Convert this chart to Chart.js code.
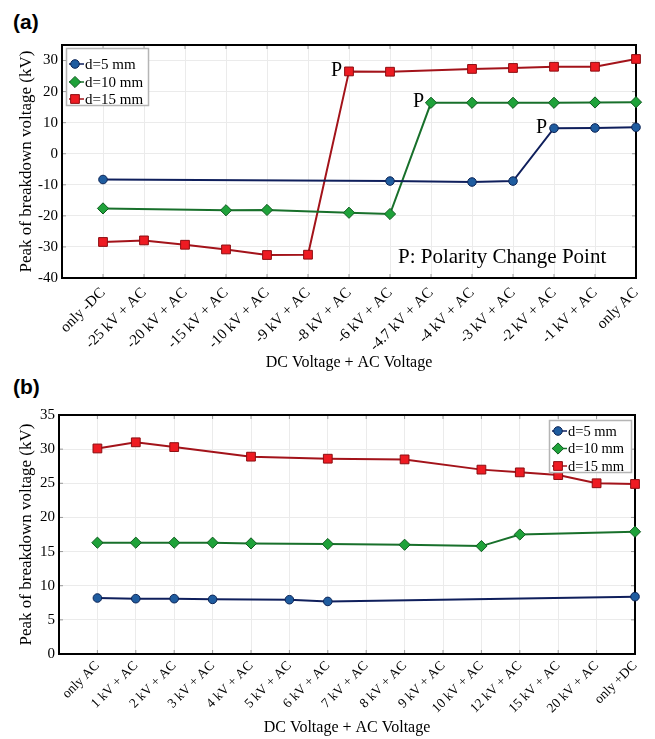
<!DOCTYPE html>
<html>
<head>
<meta charset="utf-8">
<script src="https://cdn.jsdelivr.net/npm/chart.js@4.4.0/dist/chart.umd.min.js"></script>
<style>
  body { margin: 0; background: #fff; width: 655px; height: 739px; position: relative; overflow: hidden; }
  canvas { position: absolute; left: 0; }
  #chartA { top: 0; }
  #chartB { top: 372px; }
  .tag { position: absolute; left: 13px; font: bold 21px "Liberation Sans", Arial, sans-serif; color: #000; }
</style>
</head>
<body>
<div class="tag" style="top:10px">(a)</div>
<div class="tag" style="top:375px">(b)</div>
<canvas id="chartA" width="655" height="372"></canvas>
<canvas id="chartB" width="655" height="367"></canvas>
<script>
// ── (a) negative DC + AC ─────────────────────────────────────
const labelsA = [
  'only -DC', '-25 kV + AC', '-20 kV + AC', '-15 kV + AC', '-10 kV + AC',
  '-9 kV + AC', '-8 kV + AC', '-6 kV + AC', '-4.7 kV + AC', '-4 kV + AC',
  '-3 kV + AC', '-2 kV + AC', '-1 kV + AC', 'only AC'
];
const d5A  = [-8.3, null, null, null, null, null, null, -8.8, null, -9.1, -8.8, 8.2, 8.3, 8.5];
const d10A = [-17.6, null, null, -18.2, -18.1, null, -19.0, -19.4, 16.4, 16.4, 16.4, 16.4, 16.5, 16.6];
const d15A = [-28.4, -27.9, -29.3, -30.8, -32.6, -32.5, 26.5, 26.4, null, 27.3, 27.6, 28.0, 28.0, 30.5];
// index where each gap's polarity flips (d=5, d=10, d=15)
const changeA = [11, 8, 6];
const yTicksA = { min: -40, max: 35, step: 10 };

// ── (b) positive DC + AC ─────────────────────────────────────
const labelsB = [
  'only AC', '1 kV + AC', '2 kV + AC', '3 kV + AC', '4 kV + AC', '5 kV + AC',
  '6 kV + AC', '7 kV + AC', '8 kV + AC', '9 kV + AC', '10 kV + AC',
  '12 kV + AC', '15 kV + AC', '20 kV + AC', 'only +DC'
];
const d5B  = [8.2, 8.1, 8.1, 8.0, null, 7.95, 7.7, null, null, null, null, null, null, null, 8.4];
const d10B = [16.3, 16.3, 16.3, 16.3, 16.2, null, 16.1, null, 16.0, null, 15.8, 17.5, null, null, 17.9];
const d15B = [30.1, 31.0, 30.3, null, 28.9, null, 28.6, null, 28.5, null, 27.0, 26.6, 26.2, 25.0, 24.9];
const yTicksB = { min: 0, max: 35, step: 5 };

const seriesNames = ['d=5 mm', 'd=10 mm', 'd=15 mm'];

const SERIF = '"Liberation Serif", "DejaVu Serif", serif';

const styles = [
  { line: '#0f1f5c', fill: '#1f5c9f', edge: '#0c2456', shape: 'circle',  r: 4.3 },
  { line: '#18702b', fill: '#1fa23a', edge: '#0d5a1e', shape: 'rectRot', r: 5.6 },
  { line: '#a3131a', fill: '#ee1b22', edge: '#8c0e12', shape: 'rect',    r: 6.2 }
];

// skip missing readings, keep category index as x
const toPoints = arr => arr.map((v, i) => (v == null ? null : { x: i, y: v })).filter(Boolean);

// frame + short inner tick marks
const framePlugin = {
  id: 'frame',
  beforeDatasetsDraw(chart) {
    const { ctx, chartArea: a, scales: { x, y } } = chart;
    ctx.save();
    ctx.strokeStyle = '#9a9a9a';
    ctx.lineWidth = 1;
    ctx.beginPath();
    x.ticks.forEach(t => {
      if (t.value < 0) return;
      const px = x.getPixelForValue(t.value);
      ctx.moveTo(px, a.top); ctx.lineTo(px, a.top + 4);
      ctx.moveTo(px, a.bottom); ctx.lineTo(px, a.bottom - 4);
    });
    y.ticks.forEach(t => {
      const py = y.getPixelForValue(t.value);
      ctx.moveTo(a.left, py); ctx.lineTo(a.left + 4, py);
      ctx.moveTo(a.right, py); ctx.lineTo(a.right - 4, py);
    });
    ctx.stroke();
    ctx.strokeStyle = '#000';
    ctx.lineWidth = 2;
    ctx.strokeRect(a.left, a.top, a.right - a.left, a.bottom - a.top);
    ctx.restore();
  }
};

// boxed legend inside the plot (offsets from the chart area corner)
const boxLegend = {
  id: 'boxLegend',
  afterDatasetsDraw(chart, args, opts) {
    const { ctx, chartArea: a } = chart;
    const { w, h, rows, fontSize } = opts;
    const x0 = a.left + opts.dx, y0 = a.top + opts.dy;
    ctx.save();
    ctx.fillStyle = '#fff';
    ctx.fillRect(x0, y0, w, h);
    ctx.strokeStyle = '#b5b5b5';
    ctx.lineWidth = 1.5;
    ctx.strokeRect(x0 + 0.5, y0 + 0.5, w, h);
    ctx.font = fontSize + 'px ' + SERIF;
    ctx.textBaseline = 'middle';
    chart.data.datasets.forEach((ds, i) => {
      const cy = y0 + rows[i];
      const mx = x0 + 9;
      ctx.strokeStyle = ds.borderColor;
      ctx.lineWidth = 1.5;
      ctx.beginPath();
      ctx.moveTo(mx - 6, cy); ctx.lineTo(mx + 9, cy);
      ctx.stroke();
      ctx.fillStyle = ds.pointBackgroundColor;
      ctx.strokeStyle = ds.pointBorderColor;
      ctx.lineWidth = 1;
      Chart.helpers.drawPoint(ctx, { pointStyle: ds.pointStyle, radius: ds.pointRadius, borderWidth: 1 }, mx, cy);
      ctx.fillStyle = '#000';
      ctx.fillText(ds.label, mx + 10, cy + 1);
    });
    ctx.restore();
  }
};

// "P" next to each polarity change point, plus the note
const polarityPlugin = {
  id: 'polarity',
  afterDatasetsDraw(chart, args, opts) {
    if (!opts.change) return;
    const { ctx, chartArea: a } = chart;
    ctx.save();
    ctx.fillStyle = '#000';
    ctx.font = '20px ' + SERIF;
    ctx.textAlign = 'right';
    ctx.textBaseline = 'middle';
    opts.change.forEach((idx, s) => {
      const meta = chart.getDatasetMeta(s);
      const pos = chart.data.datasets[s].data.findIndex(p => p.x === idx);
      const el = meta.data[pos];
      if (el) ctx.fillText('P', el.x - 7, el.y - 1);
    });
    ctx.font = '21px ' + SERIF;
    ctx.textAlign = 'left';
    ctx.textBaseline = 'alphabetic';
    ctx.fillText('P: Polarity Change Point', a.left + 336, a.bottom - 15);
    ctx.restore();
  }
};

function buildChart(id, labels, series, yt, cfg) {
  const datasets = series.map((arr, i) => ({
    label: seriesNames[i],
    data: toPoints(arr),
    borderColor: styles[i].line,
    borderWidth: 2,
    pointStyle: styles[i].shape,
    pointRadius: styles[i].r,
    pointHoverRadius: styles[i].r,
    pointBackgroundColor: styles[i].fill,
    pointBorderColor: styles[i].edge,
    pointBorderWidth: 1,
    tension: 0,
    clip: false
  }));

  return new Chart(document.getElementById(id), {
    type: 'line',
    data: { datasets },
    options: {
      responsive: false,
      animation: false,
      layout: { padding: { top: cfg.top, right: cfg.right, left: 0, bottom: 0 } },
      plugins: {
        legend: { display: false },
        tooltip: { enabled: false },
        boxLegend: cfg.legend,
        polarity: { change: cfg.change }
      },
      scales: {
        x: {
          type: 'linear',
          min: -1,
          max: labels.length - 1,
          afterFit: s => { s.height = cfg.xHeight; },
          afterBuildTicks: s => { s.ticks = labels.map((_, i) => ({ value: i })).concat([{ value: -1 }]); },
          grid: { color: '#ebebeb', drawTicks: false },
          border: { display: false },
          ticks: {
            autoSkip: false,
            minRotation: 45,
            maxRotation: 45,
            padding: cfg.tickPad,
            color: '#000',
            font: { family: SERIF, size: cfg.tickSize },
            callback: v => labels[v] ?? ''
          },
          title: {
            display: true,
            text: 'DC Voltage + AC Voltage',
            color: '#000',
            font: { family: SERIF, size: 16 },
            padding: { top: 0, bottom: cfg.xTitlePad }
          }
        },
        y: {
          min: yt.min,
          max: yt.max,
          afterFit: s => { s.width = cfg.yWidth; },
          grid: { color: '#ebebeb', drawTicks: false },
          border: { display: false },
          ticks: {
            stepSize: yt.step,
            includeBounds: false,
            padding: 4,
            color: '#000',
            font: { family: SERIF, size: 15 }
          },
          title: {
            display: true,
            text: 'Peak of breakdown voltage (kV)',
            color: '#000',
            font: { family: SERIF, size: 17 },
            padding: { top: 16, bottom: 0 }
          }
        }
      }
    },
    plugins: [framePlugin, polarityPlugin, boxLegend]
  });
}

buildChart('chartA', labelsA, [d5A, d10A, d15A], yTicksA, {
  top: 45, right: 19, yWidth: 62, xHeight: 94, xTitlePad: 0, tickSize: 15, tickPad: 6,
  change: changeA,
  legend: { dx: 4, dy: 3, w: 82, h: 57, rows: [16, 34, 51], fontSize: 15 }
});

buildChart('chartB', labelsB, [d5B, d10B, d15B], yTicksB, {
  top: 43, right: 20, yWidth: 59, xHeight: 85, xTitlePad: 2, tickSize: 13.5, tickPad: 4,
  change: null,
  legend: { dx: 490, dy: 5, w: 82, h: 52, rows: [11, 28.5, 46], fontSize: 14.5 }
});
</script>
</body>
</html>
